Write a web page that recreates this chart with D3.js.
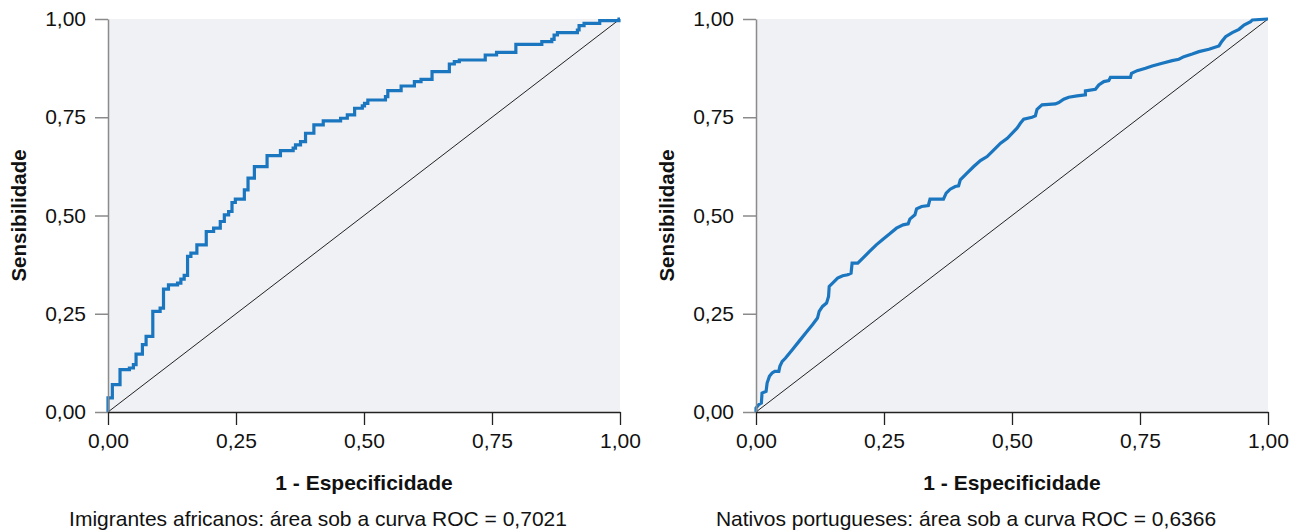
<!DOCTYPE html>
<html>
<head>
<meta charset="utf-8">
<script src="https://cdn.jsdelivr.net/npm/d3@7"></script>
<style>
  body { margin: 0; background: #fff; }
  svg { display: block; font-family: "Liberation Sans", Arial, sans-serif; }
</style>
</head>
<body>
<svg id="chart" width="1303" height="532"></svg>
<script>
// ROC curves: [1 - especificidade, sensibilidade]
const africanosRoc = [
  [0, 0], [0, 0.036], [0.0085, 0.0695], [0.0235, 0.1076], [0.0418, 0.1119], [0.0496, 0.1203],
  [0.0548, 0.1475], [0.0672, 0.1712], [0.0744, 0.1924], [0.0875, 0.2559], [0.1018, 0.2644],
  [0.1084, 0.3127], [0.1181, 0.3237], [0.1358, 0.328], [0.1423, 0.3381], [0.1488, 0.3475],
  [0.1554, 0.3958], [0.1619, 0.4042], [0.1736, 0.4254], [0.1919, 0.4593], [0.2063, 0.4678],
  [0.2193, 0.4847], [0.2272, 0.5017], [0.2356, 0.5102], [0.2422, 0.5331], [0.2487, 0.5415],
  [0.2663, 0.5653], [0.2735, 0.5949], [0.2859, 0.6246], [0.3107, 0.6525], [0.3368, 0.6653],
  [0.3616, 0.6712], [0.3662, 0.6797], [0.376, 0.6881], [0.3858, 0.7093], [0.4021, 0.7305],
  [0.4204, 0.7407], [0.4543, 0.7475], [0.4674, 0.7559], [0.4817, 0.7729], [0.4967, 0.7788],
  [0.501, 0.7854], [0.5075, 0.7939], [0.5419, 0.8024], [0.5465, 0.8176], [0.5725, 0.8295],
  [0.5984, 0.8405], [0.6114, 0.8465], [0.6329, 0.866], [0.6667, 0.8855], [0.6764, 0.8914],
  [0.6862, 0.8957], [0.7368, 0.9084], [0.7589, 0.9152], [0.7966, 0.9355], [0.8473, 0.9423],
  [0.8668, 0.9483], [0.8713, 0.9593], [0.8778, 0.9652], [0.9168, 0.972], [0.9201, 0.983],
  [0.9298, 0.989], [0.9604, 0.9958], [0.998, 1], [1, 1]
];

const portuguesesRoc = [
  [0, 0], [0, 0.0102], [0.0052, 0.0186], [0.0105, 0.0229], [0.0118, 0.0483], [0.0197, 0.0525],
  [0.0217, 0.0737], [0.0262, 0.0907], [0.0315, 0.0992], [0.0367, 0.1034], [0.0446, 0.1034],
  [0.0466, 0.1161], [0.0512, 0.1288], [0.0577, 0.1373], [0.0709, 0.1585], [0.084, 0.1797],
  [0.0971, 0.2008], [0.1102, 0.222], [0.1201, 0.239], [0.1234, 0.2559], [0.1299, 0.2686],
  [0.1378, 0.2771], [0.1417, 0.2941], [0.143, 0.3195], [0.1496, 0.328], [0.1594, 0.3407],
  [0.1693, 0.3466], [0.1791, 0.3492], [0.1857, 0.3534], [0.1877, 0.3788], [0.1988, 0.3788],
  [0.2087, 0.3915], [0.2218, 0.4085], [0.2349, 0.4254], [0.248, 0.4398], [0.2612, 0.4534],
  [0.2743, 0.4678], [0.2874, 0.4763], [0.2972, 0.4788], [0.3005, 0.4907], [0.3104, 0.5017],
  [0.3136, 0.5169], [0.3235, 0.5229], [0.3366, 0.5254], [0.3399, 0.5415], [0.3661, 0.5415],
  [0.3714, 0.5568], [0.3793, 0.5669], [0.3891, 0.5737], [0.3957, 0.5754], [0.399, 0.5907],
  [0.4121, 0.6076], [0.4252, 0.6246], [0.4383, 0.6398], [0.4514, 0.65], [0.4646, 0.6669],
  [0.4777, 0.6839], [0.4908, 0.6966], [0.5033, 0.7136], [0.5098, 0.722], [0.5163, 0.7347],
  [0.5228, 0.7449], [0.5391, 0.75], [0.5456, 0.7534], [0.5489, 0.7703], [0.5587, 0.7814],
  [0.5847, 0.7839], [0.5913, 0.7873], [0.601, 0.7958], [0.6108, 0.8008], [0.6271, 0.8042],
  [0.6434, 0.8068], [0.6434, 0.8169], [0.663, 0.8212], [0.6695, 0.8322], [0.6793, 0.8407],
  [0.689, 0.8432], [0.6923, 0.8517], [0.7314, 0.8517], [0.7334, 0.8619], [0.7445, 0.8686],
  [0.7608, 0.8746], [0.7738, 0.8805], [0.7934, 0.8873], [0.8129, 0.8941], [0.8259, 0.8975],
  [0.8357, 0.9042], [0.852, 0.911], [0.8651, 0.9169], [0.8846, 0.9229], [0.9042, 0.9314],
  [0.9094, 0.9424], [0.9172, 0.9551], [0.9302, 0.9653], [0.9433, 0.9737], [0.9531, 0.9847],
  [0.9661, 0.9932], [0.9694, 0.9975], [0.9987, 1], [1, 1]
];

const ticks = [0, 0.25, 0.5, 0.75, 1];
const xTitle = '1 - Especificidade';
const yTitle = 'Sensibilidade';

const panels = [
  { left: 108, data: africanosRoc, curve: d3.curveStepAfter,
    caption: 'Imigrantes africanos: área sob a curva ROC = 0,7021' },
  { left: 756, data: portuguesesRoc, curve: d3.curveLinear,
    caption: 'Nativos portugueses: área sob a curva ROC = 0,6366' }
];

const svg = d3.select('#chart');
const plotTop = 19, plotW = 512, plotH = 393;
const fmt = d => d.toFixed(2).replace('.', ',');

panels.forEach(p => {
  const g = svg.append('g').attr('transform', `translate(${p.left},${plotTop})`);

  const x = d3.scaleLinear().domain([0, 1]).range([0, plotW]);
  const y = d3.scaleLinear().domain([0, 1]).range([plotH, 0]);

  g.append('rect')
    .attr('width', plotW)
    .attr('height', plotH)
    .attr('fill', '#f0f1f4');

  // reference diagonal
  g.append('line')
    .attr('x1', x(0)).attr('y1', y(0))
    .attr('x2', x(1)).attr('y2', y(1))
    .attr('stroke', '#222')
    .attr('stroke-width', 1);

  const line = d3.line()
    .x(d => x(d[0]))
    .y(d => y(d[1]))
    .curve(p.curve);

  g.append('path')
    .datum(p.data)
    .attr('fill', 'none')
    .attr('stroke', '#1b76c0')
    .attr('stroke-width', 3.2)
    .attr('stroke-linejoin', 'miter')
    .attr('d', line);

  const yAxis = g.append('g')
    .call(d3.axisLeft(y).tickValues(ticks).tickFormat(fmt).tickSize(13).tickPadding(9).tickSizeOuter(0));
  yAxis.selectAll('path, line').attr('stroke', '#8a8a8a').attr('stroke-width', 1.5);
  yAxis.selectAll('text').attr('font-size', 21).attr('fill', '#111');

  const xAxis = g.append('g')
    .attr('transform', `translate(0,${plotH})`)
    .call(d3.axisBottom(x).tickValues(ticks).tickFormat(fmt).tickSize(13).tickPadding(8).tickSizeOuter(0));
  xAxis.selectAll('path, line').attr('stroke', '#222').attr('stroke-width', 1.3);
  xAxis.selectAll('text').attr('font-size', 21).attr('fill', '#111');

  g.append('text')
    .attr('x', plotW / 2)
    .attr('y', plotH + 78)
    .attr('text-anchor', 'middle')
    .attr('font-size', 21)
    .attr('font-weight', 'bold')
    .attr('fill', '#111')
    .text(xTitle);

  g.append('text')
    .attr('transform', `translate(-82,${plotH / 2}) rotate(-90)`)
    .attr('text-anchor', 'middle')
    .attr('font-size', 20.5)
    .attr('font-weight', 'bold')
    .attr('fill', '#111')
    .text(yTitle);

  g.append('text')
    .attr('x', plotW / 2 - 46)
    .attr('y', plotH + 114)
    .attr('text-anchor', 'middle')
    .attr('font-size', 21)
    .attr('fill', '#111')
    .text(p.caption);
});
</script>
</body>
</html>
